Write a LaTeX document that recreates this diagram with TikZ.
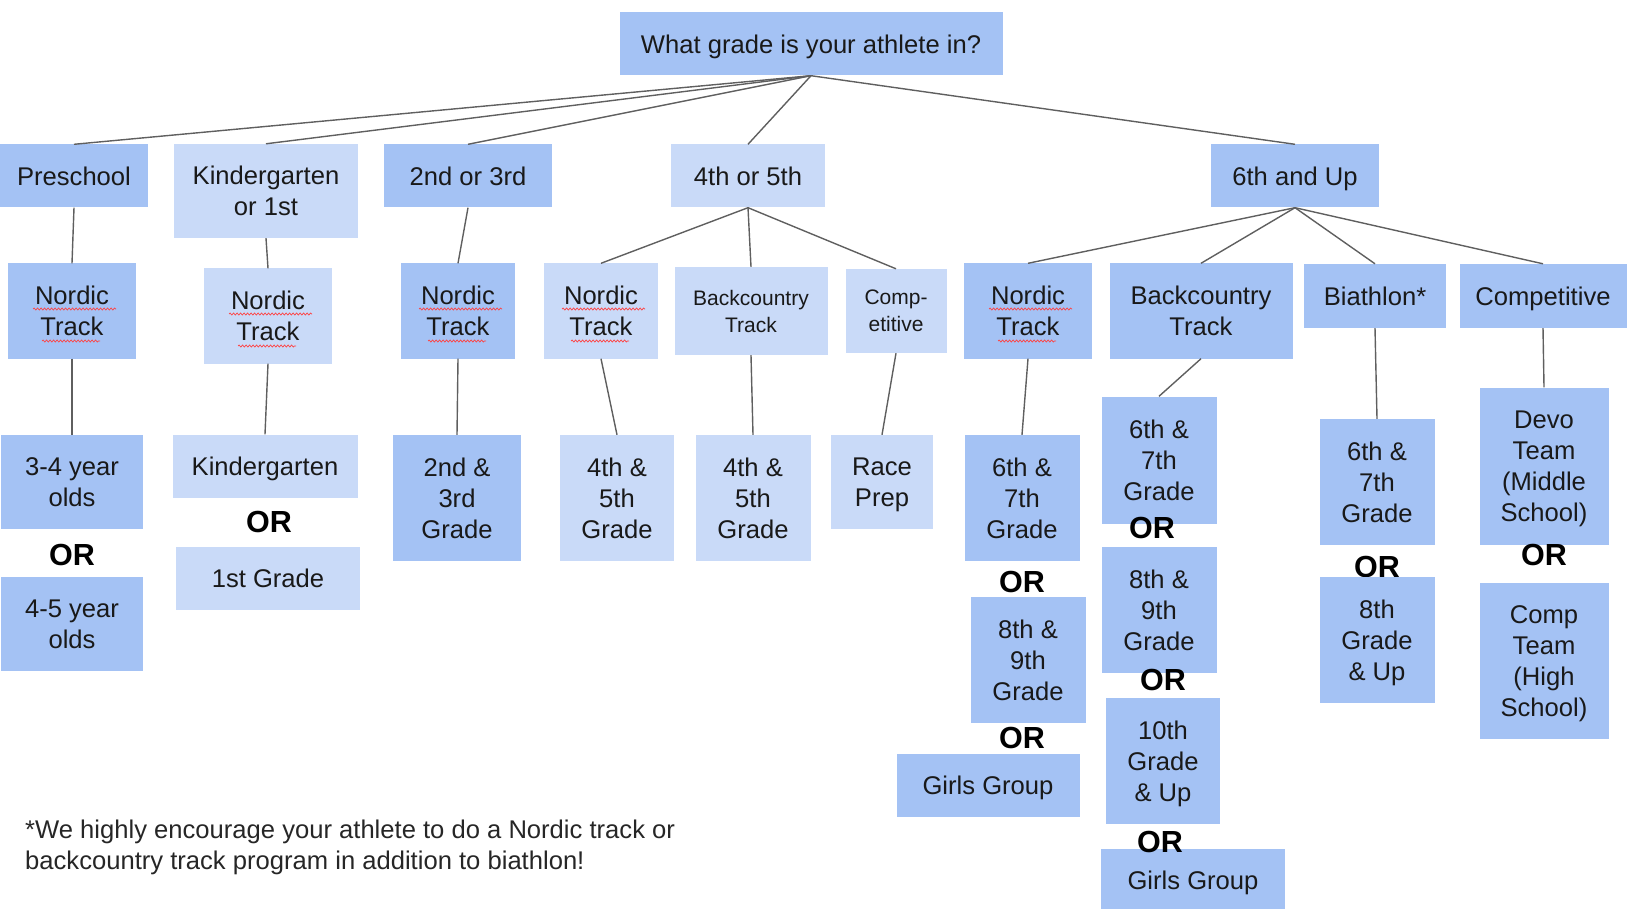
\documentclass[tikz,border=0pt]{standalone}
\usepackage{fontspec}
\setmainfont{Liberation Sans}
\usepackage{xcolor}
\usepackage{tikz}
\usetikzlibrary{decorations.pathmorphing}
\definecolor{boxdark}{HTML}{A4C2F4}
\definecolor{boxlight}{HTML}{C9DAF8}
\definecolor{linkgray}{HTML}{5F5F5F}
\tikzset{
	grade/.style 2 args={
			rectangle, inner sep=0pt, align=center, text=black!90, text depth=0pt,
			minimum width=#1pt, minimum height=#2pt,
			font=\fontsize{25.6}{31}\selectfont
		},
	dark/.style 2 args={grade={#1}{#2}, fill=boxdark},
	light/.style 2 args={grade={#1}{#2}, fill=boxlight},
	smalltext/.style={font=\fontsize{21}{27}\selectfont},
	orword/.style={inner sep=0pt, font=\fontsize{30.5}{31}\selectfont\bfseries},
	link/.style={draw=linkgray, line width=1.4pt},
	squiggle/.style={draw=red!75, line width=0.7pt, decorate,
			decoration={snake, amplitude=1pt, segment length=3.5pt}}
}

\begin{document}
\begin{tikzpicture}[x=1pt, y=-1pt]
		\useasboundingbox (0,0) rectangle (1627,909);

		\node[dark={383}{63}]	(question)	at (811,44)	{What grade is your athlete in?};

		\node[dark={148}{63}]	(preschool)	at (74,176)	{Preschool};
		\node[light={184}{94}]	(kinder)	at (266,191)	{Kindergarten\\or 1st};
		\node[dark={168}{63}]	(second)	at (468,176)	{2nd or 3rd};
		\node[light={154}{63}]	(fourth)	at (748,176)	{4th or 5th};
		\node[dark={168}{63}]	(sixth)		at (1295,176)	{6th and Up};

		\node[dark={128}{95}]	(nordicP)	at (72,311)	{Nordic\\Track};
		\node[light={128}{95}]	(nordicK)	at (268,316)	{Nordic\\Track};
		\node[dark={114}{95}]	(nordicS)	at (458,311)	{Nordic\\Track};
		\node[light={114}{95}]	(nordicF)	at (601,311)	{Nordic\\Track};
		\node[light={153}{88}, smalltext]	(backF)	at (751,311)	{Backcountry\\Track};
		\node[light={101}{84}, smalltext]	(compF)	at (896,311)	{Comp-\\etitive};
		\node[dark={128}{95}]	(nordicX)	at (1028,311)	{Nordic\\Track};
		\node[dark={183}{95}]	(backX)		at (1201,311)	{Backcountry\\Track};
		\node[dark={142}{64}]	(biathlon)	at (1375,296)	{Biathlon*};
		\node[dark={167}{64}]	(competitive)	at (1543,296)	{Competitive};

		\node[dark={142}{94}]	(yearsA)	at (72,482)	{3-4 year\\olds};
		\node[orword]		(orA)		at (72,555)	{OR};
		\node[dark={142}{94}]	(yearsB)	at (72,624)	{4-5 year\\olds};

		\node[light={185}{63}]	(kgA)		at (265,466)	{Kindergarten};
		\node[orword]		(orB)		at (269,522)	{OR};
		\node[light={184}{63}]	(kgB)		at (268,578)	{1st Grade};

		\node[dark={128}{126}]	(gradeS)	at (457,498)	{2nd \&\\3rd\\Grade};
		\node[light={114}{126}]	(gradeFa)	at (617,498)	{4th \&\\5th\\Grade};
		\node[light={115}{126}]	(gradeFb)	at (753,498)	{4th \&\\5th\\Grade};
		\node[light={102}{94}]	(raceprep)	at (882,482)	{Race\\Prep};

		\node[dark={115}{126}]	(nordicXa)	at (1022,498)	{6th \&\\7th\\Grade};
		\node[orword]		(orC)		at (1022,582)	{OR};
		\node[dark={115}{126}]	(nordicXb)	at (1028,660)	{8th \&\\9th\\Grade};
		\node[orword]		(orD)		at (1022,738)	{OR};
		\node[dark={183}{63}]	(nordicXc)	at (988,785)	{Girls Group};

		\node[dark={115}{127}]	(backXa)	at (1159,460)	{6th \&\\7th\\Grade};
		\node[dark={115}{126}]	(backXb)	at (1159,610)	{8th \&\\9th\\Grade};
		\node[dark={114}{126}]	(backXc)	at (1163,761)	{10th\\Grade\\\& Up};
		\node[dark={184}{63}]	(backXd)	at (1193,880)	{Girls Group};
		\node[orword]		(orE)		at (1152,528)	{OR};
		\node[orword]		(orF)		at (1163,680)	{OR};
		\node[orword]		(orG)		at (1160,842)	{OR};

		\node[dark={115}{126}]	(biathlonA)	at (1377,482)	{6th \&\\7th\\Grade};
		\node[orword]		(orH)		at (1377,567)	{OR};
		\node[dark={115}{126}]	(biathlonB)	at (1377,640)	{8th\\Grade\\\& Up};

		\node[dark={129}{157}]	(devo)		at (1544,466)	{Devo\\Team\\(Middle\\School)};
		\node[orword]		(orI)		at (1544,555)	{OR};
		\node[dark={129}{156}]	(compteam)	at (1544,661)	{Comp\\Team\\(High\\School)};

		\foreach \from/\to in {question/preschool, question/kinder, question/second, question/fourth, question/sixth,
				preschool/nordicP, kinder/nordicK, second/nordicS, fourth/nordicF, fourth/backF, fourth/compF,
				sixth/nordicX, sixth/backX, sixth/biathlon, sixth/competitive,
				nordicP/yearsA, nordicK/kgA, nordicS/gradeS, nordicF/gradeFa, backF/gradeFb, compF/raceprep,
				nordicX/nordicXa, backX/backXa, biathlon/biathlonA, competitive/devo}
			\draw[link] (\from.south) -- (\to.north);

		\foreach \n in {nordicP, nordicK, nordicS, nordicF, nordicX} {
			\draw[squiggle] ([xshift=-39pt, yshift=2pt]\n.center) -- ++(83,0);
			\draw[squiggle] ([xshift=-30pt, yshift=-30pt]\n.center) -- ++(58,0);
		}

		\node[anchor=west, align=left, inner sep=0pt, text=black!85, font=\fontsize{25.6}{31}\selectfont]	(footnote)	at (25,847)
			{*We highly encourage your athlete to do a Nordic track or\\backcountry track program in addition to biathlon!};
	\end{tikzpicture}
\end{document}
